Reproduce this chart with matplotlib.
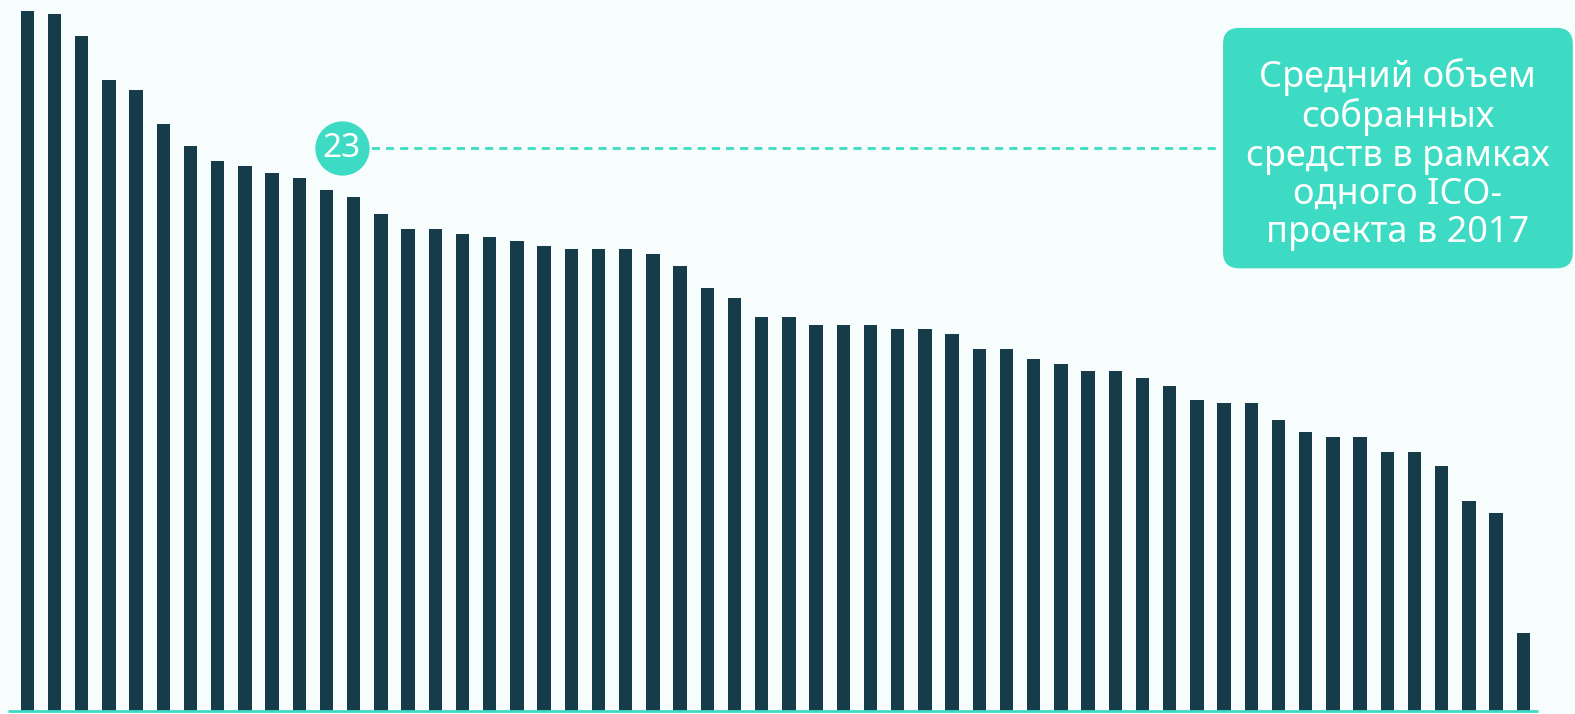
import matplotlib
matplotlib.use("Agg")
import matplotlib.pyplot as plt
from matplotlib.patches import FancyBboxPatch

# Funds raised per ICO project (mln USD), sorted descending
raised = [28.6, 28.5, 27.6, 25.8, 25.4, 24.0, 23.1, 22.5, 22.3, 22.0,
          21.8, 21.3, 21.0, 20.3, 19.7, 19.7, 19.5, 19.4, 19.2, 19.0,
          18.9, 18.9, 18.9, 18.7, 18.2, 17.3, 16.9, 16.1, 16.1, 15.8,
          15.8, 15.8, 15.6, 15.6, 15.4, 14.8, 14.8, 14.4, 14.2, 13.9,
          13.9, 13.6, 13.3, 12.7, 12.6, 12.6, 11.9, 11.4, 11.2, 11.2,
          10.6, 10.6, 10.0, 8.6, 8.1, 3.2]
average = 23
note = "Средний объем\nсобранных\nсредств в рамках\nодного ICO-\nпроекта в 2017"

bar_clr = "#163c49"
accent = "#3ddbc4"
bg = "#f7fcfd"

plt.rcParams['font.family'] = ['Noto Sans', 'DejaVu Sans']

fig = plt.figure(figsize=(15.75, 7.14), dpi=100, facecolor=bg)
ax = fig.add_axes([0, 0, 1, 1], facecolor=bg)

x = list(range(len(raised)))
ax.bar(x, raised, width=0.49, color=bar_clr, zorder=2)

# baseline
ax.hlines(0, -0.71, 55.54, color=accent, lw=2, zorder=3)

# average marker and dashed guide
ax.plot([11.6, 43.9], [average, average], color=accent, lw=2,
        dashes=(2.9, 2.2), zorder=2)
ax.scatter([11.557], [average], s=1450, color=accent, zorder=4)
ax.text(11.557, average, str(average), color="white", fontsize=24,
        ha="center", va="center", zorder=5)

# note box
box = FancyBboxPatch((43.96, 18.1), 12.86, 9.83,
                     boxstyle="round,pad=0,rounding_size=0.6",
                     mutation_aspect=1.09,
                     facecolor=accent, edgecolor="none", zorder=4)
ax.add_patch(box)
ax.text(50.39, 22.75, note, color="white", fontsize=26, ha="center",
        va="center", linespacing=1.08, zorder=5)

ax.set_xlim(-1.0055, 56.90)
ax.set_ylim(-0.123, 29.07)
ax.axis("off")

fig.savefig("out.png", dpi=100, facecolor=bg)
plt.close(fig)
